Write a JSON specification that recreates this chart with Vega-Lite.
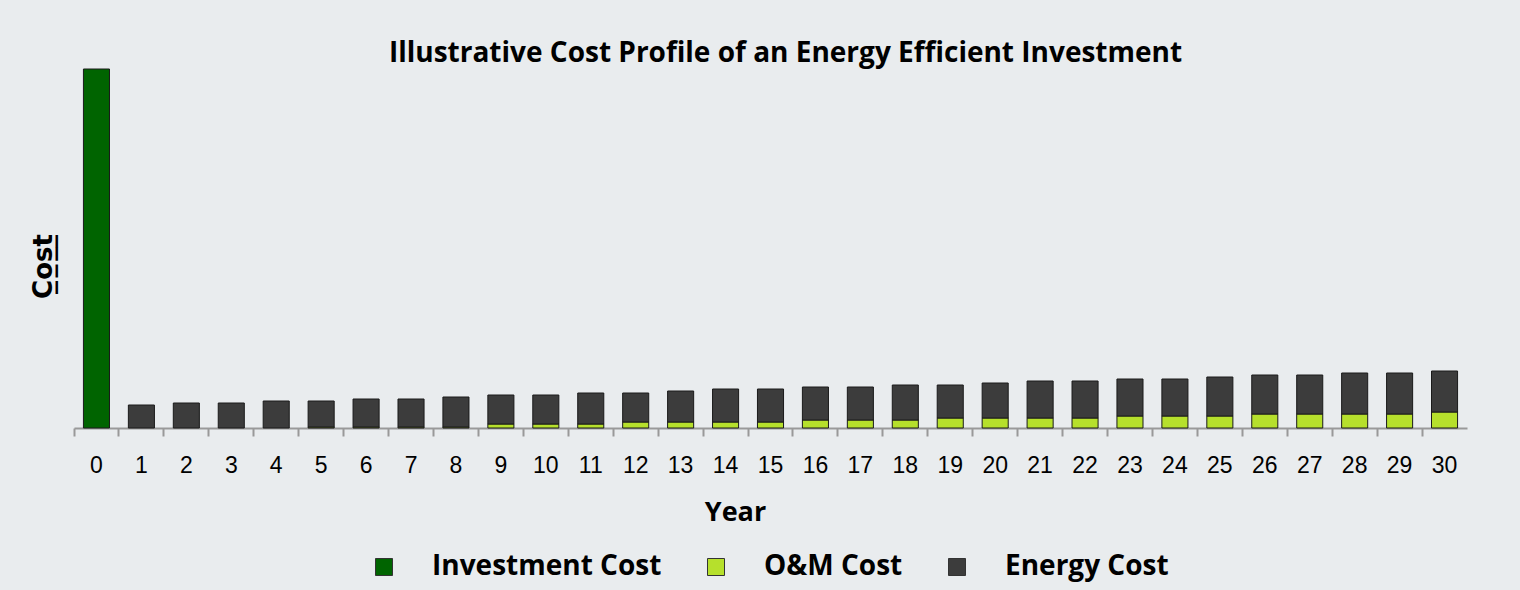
{
  "$schema": "https://vega.github.io/schema/vega-lite/v6.json",
  "width": 1393,
  "height": 359,
  "autosize": {"type": "none"},
  "padding": {"left": 74, "top": 69, "right": 53, "bottom": 162},
  "background": "#e9ecee",
  "title": {
    "text": "Illustrative Cost Profile of an Energy Efficient Investment",
    "font": "Open Sans", "fontSize": 28, "fontWeight": "bold", "color": "#000000",
    "anchor": "middle", "offset": 1, "dx": 15
  },
  "data": {
    "values": [
      {"year": 0, "type": "Investment Cost", "value": 359, "ord": 0},
      {"year": 1, "type": "Energy Cost", "value": 23, "ord": 2},
      {"year": 2, "type": "Energy Cost", "value": 25, "ord": 2},
      {"year": 3, "type": "Energy Cost", "value": 25, "ord": 2},
      {"year": 4, "type": "Energy Cost", "value": 27, "ord": 2},
      {"year": 5, "type": "O&M Cost", "value": 1, "ord": 1},
      {"year": 5, "type": "Energy Cost", "value": 26, "ord": 2},
      {"year": 6, "type": "O&M Cost", "value": 1, "ord": 1},
      {"year": 6, "type": "Energy Cost", "value": 28, "ord": 2},
      {"year": 7, "type": "O&M Cost", "value": 1, "ord": 1},
      {"year": 7, "type": "Energy Cost", "value": 28, "ord": 2},
      {"year": 8, "type": "O&M Cost", "value": 1, "ord": 1},
      {"year": 8, "type": "Energy Cost", "value": 30, "ord": 2},
      {"year": 9, "type": "O&M Cost", "value": 4, "ord": 1},
      {"year": 9, "type": "Energy Cost", "value": 29, "ord": 2},
      {"year": 10, "type": "O&M Cost", "value": 4, "ord": 1},
      {"year": 10, "type": "Energy Cost", "value": 29, "ord": 2},
      {"year": 11, "type": "O&M Cost", "value": 4, "ord": 1},
      {"year": 11, "type": "Energy Cost", "value": 31, "ord": 2},
      {"year": 12, "type": "O&M Cost", "value": 6, "ord": 1},
      {"year": 12, "type": "Energy Cost", "value": 29, "ord": 2},
      {"year": 13, "type": "O&M Cost", "value": 6, "ord": 1},
      {"year": 13, "type": "Energy Cost", "value": 31, "ord": 2},
      {"year": 14, "type": "O&M Cost", "value": 6, "ord": 1},
      {"year": 14, "type": "Energy Cost", "value": 33, "ord": 2},
      {"year": 15, "type": "O&M Cost", "value": 6, "ord": 1},
      {"year": 15, "type": "Energy Cost", "value": 33, "ord": 2},
      {"year": 16, "type": "O&M Cost", "value": 8, "ord": 1},
      {"year": 16, "type": "Energy Cost", "value": 33, "ord": 2},
      {"year": 17, "type": "O&M Cost", "value": 8, "ord": 1},
      {"year": 17, "type": "Energy Cost", "value": 33, "ord": 2},
      {"year": 18, "type": "O&M Cost", "value": 8, "ord": 1},
      {"year": 18, "type": "Energy Cost", "value": 35, "ord": 2},
      {"year": 19, "type": "O&M Cost", "value": 10, "ord": 1},
      {"year": 19, "type": "Energy Cost", "value": 33, "ord": 2},
      {"year": 20, "type": "O&M Cost", "value": 10, "ord": 1},
      {"year": 20, "type": "Energy Cost", "value": 35, "ord": 2},
      {"year": 21, "type": "O&M Cost", "value": 10, "ord": 1},
      {"year": 21, "type": "Energy Cost", "value": 37, "ord": 2},
      {"year": 22, "type": "O&M Cost", "value": 10, "ord": 1},
      {"year": 22, "type": "Energy Cost", "value": 37, "ord": 2},
      {"year": 23, "type": "O&M Cost", "value": 12, "ord": 1},
      {"year": 23, "type": "Energy Cost", "value": 37, "ord": 2},
      {"year": 24, "type": "O&M Cost", "value": 12, "ord": 1},
      {"year": 24, "type": "Energy Cost", "value": 37, "ord": 2},
      {"year": 25, "type": "O&M Cost", "value": 12, "ord": 1},
      {"year": 25, "type": "Energy Cost", "value": 39, "ord": 2},
      {"year": 26, "type": "O&M Cost", "value": 14, "ord": 1},
      {"year": 26, "type": "Energy Cost", "value": 39, "ord": 2},
      {"year": 27, "type": "O&M Cost", "value": 14, "ord": 1},
      {"year": 27, "type": "Energy Cost", "value": 39, "ord": 2},
      {"year": 28, "type": "O&M Cost", "value": 14, "ord": 1},
      {"year": 28, "type": "Energy Cost", "value": 41, "ord": 2},
      {"year": 29, "type": "O&M Cost", "value": 14, "ord": 1},
      {"year": 29, "type": "Energy Cost", "value": 41, "ord": 2},
      {"year": 30, "type": "O&M Cost", "value": 16, "ord": 1},
      {"year": 30, "type": "Energy Cost", "value": 41, "ord": 2}
    ]
  },
  "mark": {"type": "bar", "width": {"band": 0.58}, "stroke": "#1a1a1a", "strokeWidth": 1},
  "encoding": {
    "x": {
      "field": "year", "type": "ordinal", "sort": "ascending",
      "scale": {"paddingInner": 0, "paddingOuter": 0},
      "axis": {
        "title": "Year", "labelAngle": 0, "bandPosition": 0,
        "labelFont": "Liberation Sans", "labelFontSize": 23, "labelColor": "#000000", "labelPadding": 18,
        "titleFont": "Open Sans", "titleFontSize": 27, "titleFontWeight": "bold", "titleColor": "#000000",
        "titlePadding": 22, "titleX": 661,
        "domainColor": "#999999", "domainWidth": 2, "tickColor": "#999999", "tickWidth": 2, "tickSize": 8
      }
    },
    "y": {
      "field": "value", "type": "quantitative", "stack": "zero",
      "scale": {"domain": [0, 359], "nice": false},
      "axis": {
        "title": "C̲o̲s̲t̲", "labels": false, "ticks": false, "domain": false, "grid": false,
        "titleFont": "DejaVu Sans", "titleFontSize": 26, "titleFontWeight": "bold", "titleColor": "#000000",
        "titlePadding": 18, "titleY": 197
      }
    },
    "color": {
      "field": "type", "type": "nominal",
      "scale": {"domain": ["Investment Cost", "O&M Cost", "Energy Cost"], "range": ["#006400", "#b6e02c", "#3c3c3c"]},
      "legend": {
        "title": null, "orient": "none", "direction": "horizontal", "columns": 3,
        "legendX": 296, "legendY": 484,
        "symbolType": "square", "symbolSize": 289, "symbolStrokeColor": "#333333", "symbolStrokeWidth": 1,
        "labelFont": "Open Sans", "labelFontSize": 28, "labelFontWeight": "bold", "labelColor": "#000000",
        "labelLimit": 0, "labelOffset": 34, "columnPadding": 40, "padding": 0
      }
    },
    "order": {"field": "ord", "type": "quantitative"}
  },
  "config": {"view": {"stroke": null}}
}
